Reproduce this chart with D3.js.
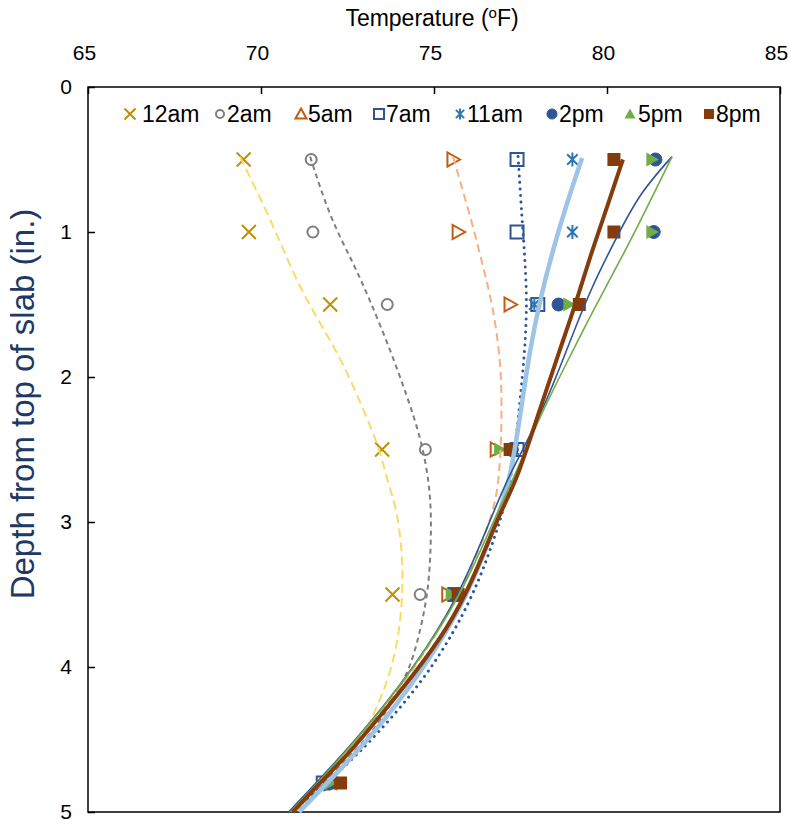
<!DOCTYPE html>
<html>
  <head>
    <title>Slab temperature profiles</title>
    <script src="https://d3js.org/d3.v7.min.js"></script>
    <style>
      body { margin: 0; background: #fff; }
      text { font-family: "Liberation Sans", Arial, sans-serif; }
    </style>
  </head>
  <body>
    <div id="chart"></div>
    <script>
      // Measured points: depth (in.) and temperature (F) per time of day
      var depths = [0.5, 1, 1.5, 2.5, 3.5, 4.8];
      var names = ["12am", "2am", "5am", "7am", "11am", "2pm", "5pm", "8pm"];
      var t12am = [69.5, 69.65, 72.0, 73.5, 73.8, 72.0];
      var t2am  = [71.45, 71.5, 73.65, 74.75, 74.6, 72.1];
      var t5am  = [75.55, 75.7, 77.2, 76.8, 75.4, 72.0];
      var t7am  = [77.4, 77.4, 78.0, 77.4, 75.6, 71.8];
      var t11am = [79.0, 79.0, 77.9, 77.3, 75.6, 71.9];
      var t2pm  = [81.4, 81.35, 78.6, 77.25, 75.6, 72.0];
      var t5pm  = [81.3, 81.3, 78.9, 76.9, 75.5, 72.0];
      var t8pm  = [80.2, 80.2, 79.2, 77.2, 75.7, 72.3];

      // Trend curves: [depth, temperature]
      var fit12am = [[0.48,69.39],[0.9,70.26],[1.35,71.04],[1.63,71.71],[1.9,72.37],[2.22,72.95],[2.5,73.44],[2.71,73.64],[2.91,73.93],[3.21,74.08],[3.44,74.1],[3.74,74.02],[4.06,73.73],[4.34,73.24],[4.55,72.77],[4.7,72.28],[4.85,71.6],[5.0,70.95]];
      var fit2am = [[0.48,71.42],[0.9,71.99],[1.21,72.66],[1.47,73.15],[1.81,73.73],[2.13,74.22],[2.41,74.6],[2.64,74.8],[2.91,74.94],[3.4,74.88],[3.67,74.68],[3.95,74.39],[4.1,74.1],[4.3,73.65],[4.5,73.05],[4.75,72.0],[5.0,71.05]];
      var fit5am = [[0.48,75.55],[0.96,76.13],[1.24,76.42],[1.52,76.71],[1.86,76.91],[2.16,76.97],[2.71,76.91],[3.0,76.65],[3.5,75.75],[4.0,74.5],[4.5,72.85],[5.0,70.9]];
      var fit7am = [[0.48,77.43],[0.9,77.54],[1.19,77.63],[1.49,77.69],[1.81,77.63],[2.16,77.49],[2.71,77.25],[3.0,76.9],[3.26,76.53],[3.55,76.04],[3.93,75.17],[4.29,74.02],[4.61,72.77],[4.84,71.71],[5.0,70.85]];
      var fit11am = [[0.49,79.28],[0.8,78.84],[1.12,78.44],[1.47,78.06],[1.81,77.77],[2.27,77.49],[2.71,77.2],[3.0,76.8],[3.5,76.0],[4.0,74.75],[4.5,73.15],[5.0,71.1]];
      var fit2pm = [[0.48,81.88],[0.73,80.95],[1.03,80.29],[1.4,79.51],[1.81,78.84],[2.16,78.27],[2.5,77.57],[2.71,77.11],[3.0,76.6],[3.5,75.75],[4.0,74.45],[4.5,72.78],[5.0,70.8]];
      var fit5pm = [[0.48,81.88],[0.83,81.16],[1.12,80.55],[1.54,79.6],[1.9,78.84],[2.27,78.06],[2.71,77.28],[3.0,76.7],[3.5,75.8],[4.0,74.45],[4.5,72.8],[5.0,70.85]];
      var fit8pm = [[0.5,80.46],[0.83,80.0],[1.17,79.51],[1.47,79.13],[1.81,78.64],[2.22,78.06],[2.71,77.4],[2.93,76.91],[3.4,76.13],[3.74,75.38],[4.06,74.39],[4.34,73.44],[4.61,72.49],[4.82,71.62],[5.0,70.92]];

      var xTicks = [65, 70, 75, 80, 85];
      var yTicks = [0, 1, 2, 3, 4, 5];

      var series = [
        { name: names[0], temps: t12am, fit: fit12am, marker: "x",    color: "#BF9000", line: "#FFD966", width: 2,   dash: "9,5" },
        { name: names[1], temps: t2am,  fit: fit2am,  marker: "ocircle", color: "#7F7F7F", line: "#7F7F7F", width: 2, dash: "5,4" },
        { name: names[2], temps: t5am,  fit: fit5am,  marker: "otri", color: "#C55A11", line: "#F4B183", width: 2,   dash: "8,5" },
        { name: names[3], temps: t7am,  fit: fit7am,  marker: "osq",  color: "#2F5597", line: "#2F5597", width: 3,   dash: "0.01,6.5", cap: "round" },
        { name: names[4], temps: t11am, fit: fit11am, marker: "star", color: "#2E75B6", line: "#9DC3E6", width: 4.5, dash: null },
        { name: names[5], temps: t2pm,  fit: fit2pm,  marker: "circle", color: "#2F5597", line: "#2F5597", width: 1.6, dash: null },
        { name: names[6], temps: t5pm,  fit: fit5pm,  marker: "tri",  color: "#70AD47", line: "#70AD47", width: 1.6, dash: null },
        { name: names[7], temps: t8pm,  fit: fit8pm,  marker: "sq",   color: "#843C0C", line: "#843C0C", width: 4,   dash: null }
      ];

      var width = 791, height = 824;
      var plotLeft = 88, plotRight = 780, plotTop = 87, plotBottom = 812;

      var svg = d3.select("#chart")
        .append("svg")
        .attr("width", width)
        .attr("height", height);

      var x = d3.scaleLinear().domain([65, 85]).range([plotLeft, plotRight]);
      var y = d3.scaleLinear().domain([0, 5]).range([plotTop, plotBottom]);

      // frame
      svg.append("rect")
        .attr("x", plotLeft).attr("y", plotTop)
        .attr("width", plotRight - plotLeft).attr("height", plotBottom - plotTop)
        .attr("fill", "none").attr("stroke", "#000").attr("stroke-width", 1.5);

      // top axis with ticks pointing inside
      var gx = svg.append("g")
        .attr("transform", "translate(0," + plotTop + ")")
        .call(d3.axisTop(x).tickValues(xTicks).tickSize(-7).tickPadding(27).tickFormat(d3.format("d")));
      gx.select(".domain").remove();
      gx.selectAll("line").attr("stroke", "#000").attr("stroke-width", 1.5);
      gx.selectAll("text").attr("font-size", 21).attr("fill", "#000").attr("dx", -4)
        .style("font-family", "'Liberation Sans', Arial, sans-serif");

      var gy = svg.append("g")
        .attr("transform", "translate(" + plotLeft + ",0)")
        .call(d3.axisLeft(y).tickValues(yTicks).tickSize(-7).tickPadding(16).tickFormat(d3.format("d")));
      gy.select(".domain").remove();
      gy.selectAll("line").attr("stroke", "#000").attr("stroke-width", 1.5);
      gy.selectAll("text").attr("font-size", 21).attr("fill", "#000")
        .style("font-family", "'Liberation Sans', Arial, sans-serif");

      // axis titles
      var xt = svg.append("text")
        .attr("x", 432).attr("y", 26)
        .attr("text-anchor", "middle")
        .attr("font-size", 23)
        .attr("fill", "#000");
      xt.append("tspan").text("Temperature  (");
      xt.append("tspan").attr("font-size", 15).attr("dy", -8).text("o");
      xt.append("tspan").attr("dy", 8).text("F)");

      svg.append("text")
        .attr("transform", "translate(34,404) rotate(-90)")
        .attr("text-anchor", "middle")
        .attr("font-size", 33)
        .attr("fill", "#203864")
        .text("Depth from top of slab (in.)");

      // marker drawing helper
      function drawMarker(g, type, color, s, legend) {
        if (type === "x") {
          g.append("path").attr("d", "M" + -s + "," + -s + "L" + s + "," + s + "M" + -s + "," + s + "L" + s + "," + -s)
            .attr("stroke", color).attr("stroke-width", 2).attr("fill", "none");
        } else if (type === "star") {
          var a = s * 0.75;
          g.append("path").attr("d", "M" + -a + "," + -a + "L" + a + "," + a + "M" + -a + "," + a + "L" + a + "," + -a + "M0," + -s + "L0," + s)
            .attr("stroke", color).attr("stroke-width", 2).attr("fill", "none");
        } else if (type === "ocircle" || type === "circle") {
          g.append("circle").attr("r", type === "circle" ? s - 0.5 : s - 1.5)
            .attr("fill", type === "circle" ? color : "none")
            .attr("stroke", color).attr("stroke-width", type === "circle" ? 1 : 2);
        } else if (type === "osq" || type === "sq") {
          var h = s - 0.5;
          g.append("rect").attr("x", -h).attr("y", -h).attr("width", 2 * h).attr("height", 2 * h)
            .attr("fill", type === "sq" ? color : "none")
            .attr("stroke", color).attr("stroke-width", type === "sq" ? 0 : 2);
        } else if (type === "otri" || type === "tri") {
          var p = legend
            ? "M0," + -s + "L" + s + "," + s * 0.8 + "L" + -s + "," + s * 0.8 + "Z"
            : "M" + s + ",0L" + -s * 0.8 + "," + -s + "L" + -s * 0.8 + "," + s + "Z";
          g.append("path").attr("d", p)
            .attr("fill", type === "tri" ? color : "none")
            .attr("stroke", color).attr("stroke-width", type === "tri" ? 0 : 2)
            .attr("stroke-linejoin", "miter");
        }
      }

      // markers
      series.forEach(function(s) {
        depths.forEach(function(d, i) {
          var g = svg.append("g").attr("transform", "translate(" + x(s.temps[i]) + "," + y(d) + ")");
          drawMarker(g, s.marker, s.color, 7, false);
        });
      });

      // trend curves
      var line = d3.line()
        .x(function(p) { return x(p[1]); })
        .y(function(p) { return y(p[0]); })
        .curve(d3.curveBasis);

      series.forEach(function(s) {
        svg.append("path")
          .datum(s.fit)
          .attr("d", line)
          .attr("fill", "none")
          .attr("stroke", s.line)
          .attr("stroke-width", s.width)
          .attr("stroke-dasharray", s.dash)
          .attr("stroke-linecap", s.cap || "butt");
      });

      // legend
      var legendMarkX = [130, 220, 301, 379, 460, 552, 630, 709];
      var legendTextX = [142, 227, 308, 386, 467, 559, 638, 716];
      var legend = svg.append("g").attr("transform", "translate(0,114)");
      series.forEach(function(s, i) {
        var g = legend.append("g").attr("transform", "translate(" + legendMarkX[i] + ",0)");
        drawMarker(g, s.marker, s.color, 5.5, true);
        legend.append("text")
          .attr("x", legendTextX[i]).attr("y", 8)
          .attr("font-size", 23)
          .attr("fill", "#000")
          .text(s.name);
      });
    </script>
  </body>
</html>
